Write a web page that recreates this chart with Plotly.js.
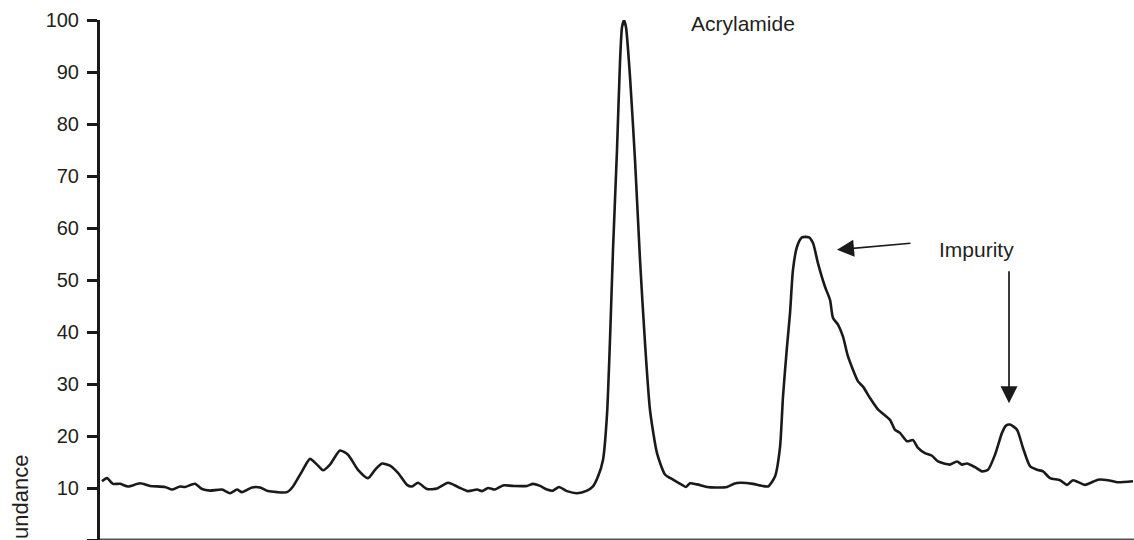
<!DOCTYPE html>
<html>
<head>
<meta charset="utf-8">
<script src="https://cdn.plot.ly/plotly-3.0.1.min.js"></script>
<style>html,body{margin:0;padding:0;background:#fff;}#chart{width:1134px;height:540px;}</style>
</head>
<body>
<div id="chart"></div>
<script>
// Retention time (min, arbitrary scale) and relative abundance (%)
const timeMin = [
  4.02,4.07,4.13,4.20,4.28,4.40,4.50,4.65,4.72,4.80,4.85,4.95,5.02,5.10,5.22,5.30,5.37,5.42,5.52,5.60,
  5.68,5.77,5.87,5.93,6.02,6.10,6.17,6.23,6.30,6.40,6.48,6.58,6.68,6.75,6.82,6.90,6.98,7.07,7.12,7.18,
  7.27,7.37,7.48,7.58,7.68,7.77,7.82,7.88,7.95,8.03,8.13,8.27,8.33,8.40,8.47,8.53,8.59,8.67,8.77,8.87,
  8.93,8.98,9.03,9.07,9.10,9.13,9.17,9.20,9.22,9.24,9.26,9.30,9.35,9.40,9.45,9.50,9.57,9.65,9.73,9.82,
  9.86,9.90,9.97,10.07,10.16,10.27,10.34,10.40,10.53,10.60,10.68,10.75,10.80,10.83,10.87,10.90,10.93,10.97,11.02,11.09,
  11.13,11.18,11.25,11.30,11.33,11.38,11.43,11.48,11.58,11.63,11.70,11.78,11.90,11.95,12.00,12.07,12.13,12.18,12.25,12.32,
  12.38,12.50,12.57,12.62,12.67,12.75,12.82,12.88,12.95,13.02,13.06,13.10,13.17,13.23,13.30,13.37,13.43,13.50,13.60,13.67,
  13.73,13.85,13.98,14.08,14.17,14.33
];
const abundance = [
  11.3,11.9,10.8,10.8,10.3,10.9,10.4,10.2,9.7,10.3,10.2,10.8,9.8,9.5,9.7,9.0,9.7,9.2,10.1,10.1,
  9.4,9.2,9.2,10.3,13.2,15.6,14.5,13.4,14.5,17.2,16.4,13.5,11.9,13.5,14.7,14.3,12.9,10.6,10.3,11.0,
  9.8,9.9,11.0,10.2,9.4,9.7,9.4,10.0,9.7,10.5,10.4,10.4,10.8,10.4,9.7,9.5,10.2,9.4,9.0,9.5,
  10.3,12.2,15.4,24.1,38.5,55.8,75.0,91.9,98.6,100.0,98.6,89.1,73.1,53.9,37.9,25.0,16.7,12.6,11.6,10.6,
  10.2,10.9,10.7,10.2,10.1,10.2,10.8,11.0,10.8,10.5,10.3,12.2,17.8,27.6,37.2,43.6,52.0,56.4,58.2,58.2,
  57.1,53.2,48.7,46.2,42.7,41.4,39.1,35.3,30.5,29.5,27.3,25.1,23.1,21.2,20.6,19.0,19.2,17.7,16.7,16.2,
  15.1,14.5,15.1,14.5,14.7,14.0,13.2,13.5,16.4,20.6,22.0,22.2,21.2,17.7,14.2,13.5,13.2,11.9,11.5,10.6,
  11.5,10.6,11.6,11.5,11.1,11.3
];
const yTicks = [0,10,20,30,40,50,60,70,80,90,100];
const peakLabel = "Acrylamide";
const impurityLabel = "Impurity";
const yAxisLabel = "Abundance";

const txt = "#231f20";
const trace = {
  x: timeMin, y: abundance, type: "scatter", mode: "lines",
  line: {color: "#1a1a1a", width: 2.6, shape: "spline", smoothing: 0.6},
  hoverinfo: "skip"
};
const layout = {
  width: 1134, height: 540,
  margin: {l: 100, r: 0, t: 20, b: 0, pad: 0},
  paper_bgcolor: "#ffffff", plot_bgcolor: "#ffffff",
  showlegend: false,
  font: {family: "Liberation Sans, Arial, sans-serif", color: txt},
  xaxis: {range: [4.0, 14.34], visible: true, showticklabels: false, ticks: "", showgrid: false,
          zeroline: false, showline: false},
  yaxis: {range: [0, 100], tickvals: yTicks, ticktext: yTicks.map(String),
          showgrid: false, zeroline: false, showline: true, linecolor: "#1a1a1a", linewidth: 3,
          ticks: "outside", ticklen: 10, tickwidth: 3, tickcolor: "#1a1a1a",
          tickfont: {size: 20, color: txt, family: "Liberation Sans, Arial, sans-serif"},
          ticklabelstandoff: 4},
  shapes: [
    {type: "line", xref: "paper", yref: "y", x0: 0, x1: 1, y0: 0, y1: 0,
     line: {color: "#555555", width: 3}}
  ],
  annotations: [
    {text: peakLabel, xref: "x", yref: "y", x: 10.43, y: 99.3, showarrow: false,
     font: {size: 21, color: txt}},
    {text: impurityLabel, xref: "x", yref: "y", x: 12.76, y: 55.8, showarrow: false,
     font: {size: 21, color: txt}},
    {text: "", xref: "x", yref: "y", x: 11.37, y: 55.8, showarrow: true,
     ax: 75, ay: -6.7, arrowhead: 2, arrowsize: 2, arrowwidth: 1.7, arrowcolor: "#1a1a1a", standoff: 0},
    {text: "", xref: "x", yref: "y", x: 13.09, y: 26.3, showarrow: true,
     ax: 0, ay: -133.5, arrowhead: 2, arrowsize: 2, arrowwidth: 1.7, arrowcolor: "#1a1a1a", standoff: 0},
    {text: yAxisLabel, xref: "paper", yref: "paper", x: -0.077, y: 0.0567, xanchor: "center", yanchor: "middle",
     showarrow: false, textangle: -90, font: {size: 22, color: txt}}
  ]
};
Plotly.newPlot("chart", [trace], layout, {displayModeBar: false, staticPlot: true});
</script>
</body>
</html>
